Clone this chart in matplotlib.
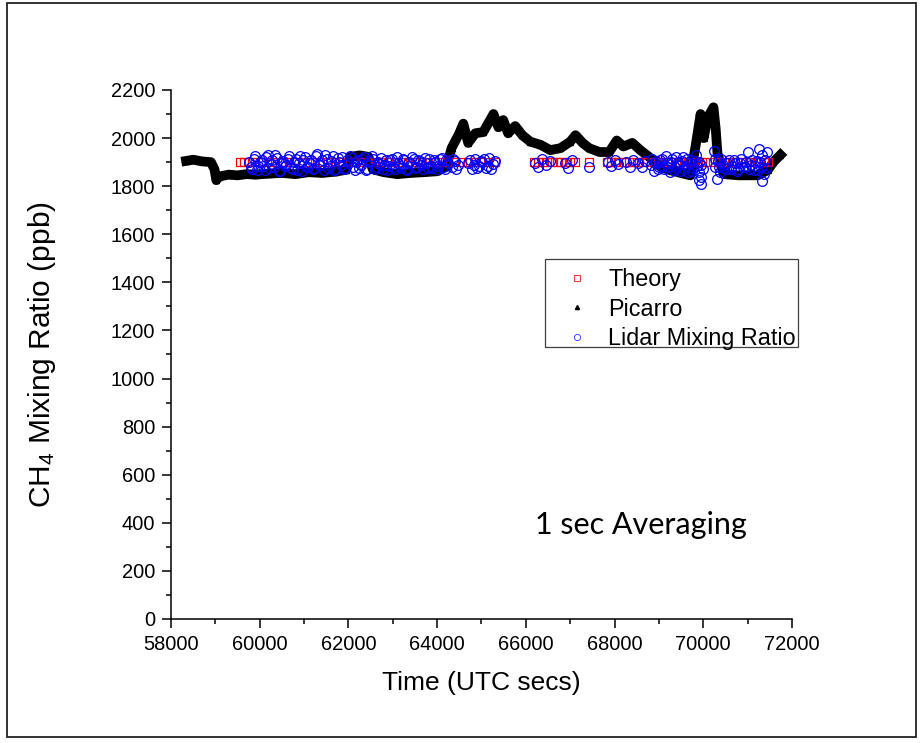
"""
CH4 mixing ratio - Theory vs Picarro vs Lidar (1 sec averaging)
"""

import matplotlib
matplotlib.use("Agg")
import matplotlib.pyplot as plt
import matplotlib.ticker as mticker
from matplotlib.lines import Line2D
from matplotlib.patches import Rectangle

plt.rcParams["font.family"] = ["Liberation Sans", "DejaVu Sans"]
plt.rcParams["mathtext.default"] = "regular"

# ─────────────────────────────────────────────
# DATOS
# ─────────────────────────────────────────────

picarro_x = [
    58340, 58500, 58700, 58900, 58980, 59020, 59080, 59300, 59500, 59700,
    59900, 60200, 60500, 60800, 61100, 61400, 61700, 61950, 62050, 62250,
    62450, 62550, 62800, 63100, 63400, 63700, 64000, 64200, 64330, 64500,
    64590, 64700, 64860, 65040, 65270, 65380, 65490, 65600, 65760, 65920,
    66100, 66330, 66550, 66780, 67000, 67120, 67280, 67430, 67660, 67880,
    68050, 68200, 68400, 68580, 68810, 69040, 69260, 69490, 69710, 69830,
    69940, 70010, 70100, 70230, 70280, 70320, 70460, 70800, 71220, 71450,
    71580, 71740,
]
picarro_y = [
    1905, 1910, 1903, 1900, 1870, 1825, 1840, 1848, 1845, 1850,
    1848, 1852, 1855, 1850, 1858, 1855, 1860, 1868, 1922, 1928,
    1922, 1870, 1858, 1850, 1855, 1858, 1862, 1880, 1960, 2020,
    2060, 1980, 2020, 2025, 2100, 2045, 2075, 2020, 2050, 2012,
    1985, 1972, 1950, 1958, 1985, 2012, 1980, 1958, 1942, 1942,
    1990, 1965, 1980, 1950, 1917, 1880, 1866, 1855, 1845, 1970,
    2100, 2000, 2085, 2128, 2040, 1937, 1850, 1845, 1845, 1866,
    1900, 1930,
]

theory_x = [
    59550, 59650, 59750, 59900, 60050, 60200, 60350, 60500, 60650, 60800,
    60950, 61100, 61250, 61400, 61550, 61700, 61850, 62000, 62150, 62300,
    62450, 62600, 62750, 62900, 63050, 63200, 63350, 63500, 63650, 63800,
    63950, 64100, 64250, 64400, 64550, 64700, 64850, 65000, 65150, 65300,
    66180, 66280, 66380, 66480, 66580, 66700, 66800, 66900, 67000, 67100,
    67420,
    67820, 67920, 68020, 68080,
    68220, 68320, 68420,
    68540, 68640, 68720,
    68880, 68980, 69080, 69180, 69280, 69380, 69480, 69580, 69680, 69780,
    69880, 69980, 70030,
    70260, 70360, 70460, 70560, 70660, 70760, 70860, 70960, 71060, 71160,
    71260, 71360, 71450,
]
theory_value = 1900

lidar_x = [
    # 59750 - 64250
    59760, 59830, 59900, 59970, 60040, 60110, 60180, 60250, 60320, 60390,
    60460, 60530, 60600, 60670, 60740, 60810, 60880, 60950, 61020, 61090,
    61160, 61230, 61300, 61370, 61440, 61510, 61580, 61650, 61720, 61790,
    61860, 61930, 62000, 62070, 62140, 62210, 62280, 62350, 62420, 62490,
    62560, 62630, 62700, 62770, 62840, 62910, 62980, 63050, 63120, 63190,
    63260, 63330, 63400, 63470, 63540, 63610, 63680, 63750, 63820, 63890,
    63960, 64030, 64100, 64170, 64240,
    59795, 59865, 59935, 60005, 60075, 60145, 60215, 60285, 60355, 60425,
    60495, 60565, 60635, 60705, 60775, 60845, 60915, 60985, 61055, 61125,
    61195, 61265, 61335, 61405, 61475, 61545, 61615, 61685, 61755, 61825,
    61895, 61965, 62035, 62105, 62175, 62245, 62315, 62385, 62455, 62525,
    62595, 62665, 62735, 62805, 62875, 62945, 63015, 63085, 63155, 63225,
    63295, 63365, 63435, 63505, 63575, 63645, 63715, 63785, 63855, 63925,
    63995, 64065, 64135, 64205,
    # 64300 - 65300
    64330, 64400, 64470, 64700, 64780, 64860, 64940, 65020, 65100, 65180,
    65260,
    64365, 64435, 64740, 64820, 64900, 64980, 65060, 65140, 65220, 65300,
    # 66200 - 68700
    66200, 66280, 66360, 66450, 66540, 66880, 66960, 67040, 67430, 67850,
    67930, 68010, 68070, 68260, 68340, 68410, 68530, 68610, 68680,
    # 68800 - 70000
    68820, 68880, 68940, 69000, 69060, 69120, 69180, 69240, 69300, 69360,
    69420, 69480, 69540, 69600, 69660, 69720, 69780, 69840, 69900, 69900,
    69900, 69950, 69950, 69950, 69990,
    68850, 68910, 68970, 69030, 69090, 69150, 69210, 69270, 69330, 69390,
    69450, 69510, 69570, 69630, 69690, 69750, 69810, 69870,
    # 70200 - 71450
    70240, 70260, 70300, 70330, 70370, 70440, 70510, 70580, 70650, 70720,
    70790, 70860, 70930, 71000, 71070, 71140, 71210, 71260, 71300, 71330,
    71360, 71400, 71440,
    70275, 70345, 70405, 70475, 70545, 70615, 70685, 70755, 70825, 70895,
    70965, 71035, 71105, 71175, 71240, 71280, 71320, 71420,
]
lidar_y = [
    1900, 1872, 1925, 1885, 1910, 1866, 1930, 1893, 1878, 1918,
    1862, 1905, 1888, 1927, 1870, 1912, 1896, 1864, 1922, 1880,
    1908, 1874, 1933, 1890, 1868, 1915, 1884, 1926, 1871, 1902,
    1920, 1877, 1895, 1916, 1866, 1908, 1886, 1920, 1873, 1900,
    1912, 1880, 1894, 1870, 1908, 1884, 1915, 1872, 1898, 1876,
    1910, 1868, 1892, 1914, 1879, 1904, 1870, 1896, 1912, 1875,
    1900, 1884, 1918, 1870, 1895,
    1880, 1912, 1868, 1902, 1885, 1920, 1876, 1908, 1928, 1864,
    1896, 1882, 1915, 1874, 1900, 1866, 1925, 1910, 1878, 1898,
    1870, 1924, 1886, 1910, 1930, 1875, 1906, 1868, 1916, 1888,
    1870, 1910, 1926, 1880, 1900, 1874, 1912, 1868, 1905, 1925,
    1872, 1900, 1918, 1888, 1866, 1910, 1878, 1920, 1885, 1912,
    1870, 1900, 1922, 1876, 1908, 1888, 1918, 1874, 1885, 1910,
    1870, 1914, 1880, 1908,
    1880, 1905, 1890, 1895, 1870, 1912, 1885, 1900, 1875, 1918,
    1892,
    1912, 1872, 1910, 1888, 1875, 1905, 1915, 1885, 1870, 1905,
    1895, 1880, 1912, 1890, 1905, 1898, 1875, 1910, 1880, 1902,
    1885, 1910, 1892, 1900, 1878, 1908, 1895, 1880, 1905,
    1890, 1865, 1905, 1880, 1915, 1870, 1895, 1860, 1912, 1878,
    1900, 1865, 1920, 1885, 1858, 1910, 1875, 1930, 1900, 1860,
    1825, 1890, 1840, 1808, 1870,
    1912, 1895, 1872, 1908, 1885, 1925, 1878, 1900, 1868, 1922,
    1890, 1905, 1870, 1912, 1895, 1865, 1905, 1885,
    1945, 1880, 1830, 1905, 1860, 1890, 1870, 1908, 1882, 1895,
    1872, 1912, 1880, 1940, 1890, 1868, 1905, 1955, 1880, 1820,
    1850, 1910, 1940,
    1912, 1880, 1915, 1875, 1898, 1870, 1910, 1865, 1895, 1878,
    1900, 1872, 1910, 1885, 1868, 1900, 1930, 1875,
]

x_ticks = [58000, 60000, 62000, 64000, 66000, 68000, 70000, 72000]
y_ticks = [0, 200, 400, 600, 800, 1000, 1200, 1400, 1600, 1800, 2000, 2200]

# ─────────────────────────────────────────────
# FIGURA
# ─────────────────────────────────────────────

fig = plt.figure(figsize=(9.24, 7.43), dpi=100)
fig.add_artist(Rectangle((7 / 924, 6 / 743), 909 / 924, 734 / 743,
                         transform=fig.transFigure, fill=False,
                         edgecolor="#222222", linewidth=1.3))

ax = fig.add_axes([0.1851, 0.1669, 0.672, 0.712])

ax.plot(picarro_x, picarro_y, color="black", lw=7, zorder=1)
ax.plot(picarro_x, picarro_y, ls="none", marker="^", color="black", ms=5, zorder=1)
ax.plot(theory_x, [theory_value] * len(theory_x), ls="none", marker="s",
        mfc="none", mec="red", ms=5.5, mew=0.9, zorder=2)
ax.plot(lidar_x, lidar_y, ls="none", marker="o", mfc="none", mec="blue",
        ms=7, mew=0.9, zorder=3)

ax.set_xlim(58000, 72000)
ax.set_ylim(0, 2200)
ax.set_xticks(x_ticks)
ax.set_yticks(y_ticks)
ax.xaxis.set_minor_locator(mticker.MultipleLocator(1000))
ax.yaxis.set_minor_locator(mticker.MultipleLocator(100))
ax.tick_params(which="major", direction="out", length=6.5, width=1.1,
               labelsize=14.4, pad=5)
ax.tick_params(which="minor", direction="out", length=3.5, width=1.1)
for s in ("top", "right"):
    ax.spines[s].set_visible(False)
for s in ("left", "bottom"):
    ax.spines[s].set_linewidth(1.1)

ax.set_xlabel("Time (UTC secs)", fontsize=19)
ax.set_ylabel("CH$_4$ Mixing Ratio (ppb)", fontsize=21.5)
ax.xaxis.set_label_coords(0.5, -0.098)
ax.yaxis.set_label_coords(-0.182, 0.5)

ax.text(0.586, 0.178, "1 sec Averaging", transform=ax.transAxes,
        fontsize=22, family=["Lato", "DejaVu Sans"], va="center", ha="left")

# leyenda sin marco + marco dibujado aparte (más aire arriba que abajo)
handles = [
    Line2D([], [], ls="none", marker="s", mfc="none", mec="#e04040", ms=5, mew=0.8),
    Line2D([], [], ls="none", marker="^", color="black", ms=3),
    Line2D([], [], ls="none", marker="o", mfc="none", mec="#3030ff", ms=4.5, mew=0.6),
]
ax.legend(handles, ["Theory", "Picarro", "Lidar Mixing Ratio"],
          loc="upper left", bbox_to_anchor=(0.6023, 0.670),
          borderaxespad=0, fontsize=16.8, frameon=False, borderpad=0.15,
          handlelength=2.45, handletextpad=0.1, labelspacing=0.28)
ax.add_patch(Rectangle((0.6023, 0.514), 0.4074, 0.1665, transform=ax.transAxes,
                       fill=False, edgecolor="#404040", linewidth=0.9,
                       clip_on=False, zorder=5))

fig.savefig("out.png", dpi=100)
